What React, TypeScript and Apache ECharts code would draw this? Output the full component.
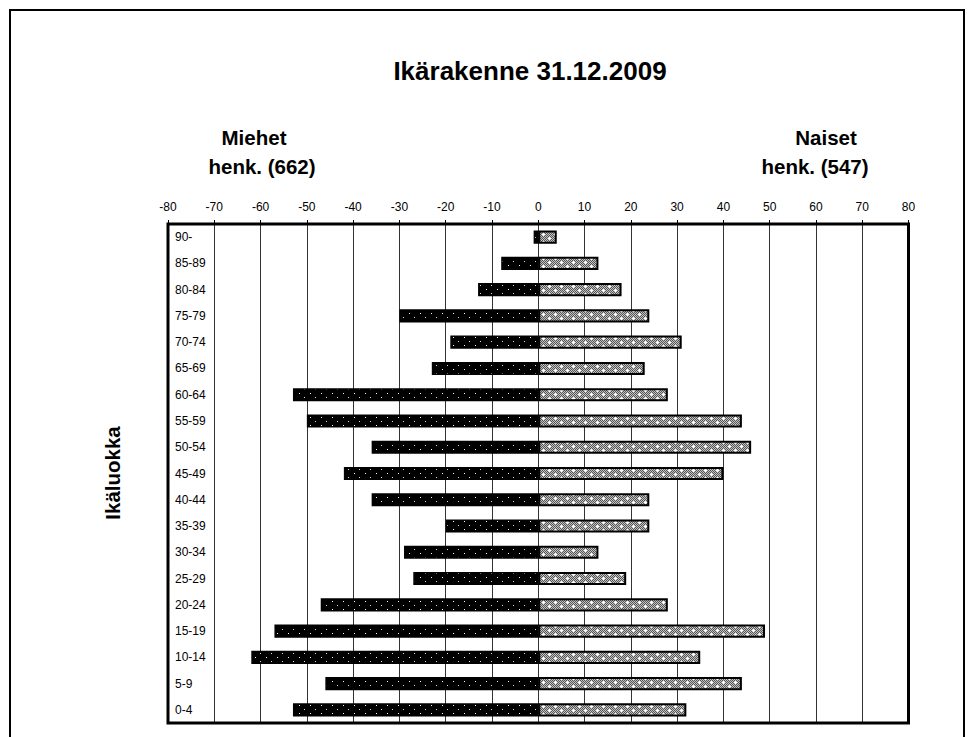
import React, { useEffect, useRef } from "react";
import * as echarts from "echarts";

const categories = ["0-4", "5-9", "10-14", "15-19", "20-24", "25-29", "30-34", "35-39", "40-44", "45-49", "50-54", "55-59", "60-64", "65-69", "70-74", "75-79", "80-84", "85-89", "90-"];
const men = [53, 46, 62, 57, 47, 27, 29, 20, 36, 42, 36, 50, 53, 23, 19, 30, 13, 8, 1];
const women = [32, 44, 35, 49, 28, 19, 13, 24, 24, 40, 46, 44, 28, 23, 31, 24, 18, 13, 4];
const xTicks = [-80, -70, -60, -50, -40, -30, -20, -10, 0, 10, 20, 30, 40, 50, 60, 70, 80];

const titleText = "Ikärakenne 31.12.2009";
const menLabel = ["Miehet", "henk. (662)"];
const womenLabel = ["Naiset", "henk. (547)"];
const yTitle = "Ikäluokka";

function makeMalePattern() {
  const c = document.createElement("canvas");
  c.width = 11;
  c.height = 8;
  const ctx = c.getContext("2d")!;
  ctx.fillStyle = "#000";
  ctx.fillRect(0, 0, 11, 8);
  ctx.fillStyle = "#fff";
  ctx.fillRect(2, 1, 1, 1);
  ctx.fillStyle = "#ddd";
  ctx.fillRect(7, 5, 1, 1);
  return c;
}

function makeFemalePattern() {
  const c = document.createElement("canvas");
  c.width = 12;
  c.height = 8;
  const ctx = c.getContext("2d")!;
  for (let y = 0; y < 8; y++) {
    for (let x = 0; x < 12; x++) {
      ctx.fillStyle = (x + y) % 2 === 0 ? "#555" : "#c4c4c4";
      ctx.fillRect(x, y, 1, 1);
    }
  }
  ctx.fillStyle = "#fff";
  ctx.fillRect(3, 1, 1, 3);
  ctx.fillRect(2, 2, 3, 1);
  ctx.fillRect(9, 5, 1, 3);
  ctx.fillRect(8, 6, 3, 1);
  return c;
}

export default function App() {
  const ref = useRef<HTMLDivElement>(null);
  useEffect(() => {
    if (!ref.current) return;
    const chart = echarts.init(ref.current, undefined, { renderer: "svg" });
    const malePat = makeMalePattern();
    const femalePat = makeFemalePattern();
    const bold = { fontFamily: "Liberation Sans, Arial, sans-serif", fontWeight: "bold" as const, fill: "#000" };
    chart.setOption({
      animation: false,
      backgroundColor: "#fff",
      grid: {
        left: 168,
        right: 59.5,
        top: 224,
        bottom: 14,
        show: true,
        borderColor: "#000",
        borderWidth: 3,
        backgroundColor: "transparent",
        z: 10,
      },
      xAxis: {
        type: "value",
        position: "top",
        min: xTicks[0],
        max: xTicks[xTicks.length - 1],
        interval: 10,
        axisLine: { show: false },
        axisTick: { show: true, length: 4, lineStyle: { color: "#000", width: 1 } },
        axisLabel: {
          margin: 11,
          fontSize: 12,
          color: "#000",
          fontFamily: "Liberation Sans, Arial, sans-serif",
        },
        splitLine: { show: true, lineStyle: { color: "#333", width: 1 } },
      },
      yAxis: {
        type: "category",
        data: categories,
        axisLine: { show: false },
        axisTick: { show: false },
        axisLabel: {
          inside: true,
          margin: 7,
          fontSize: 12,
          color: "#000",
          fontFamily: "Liberation Sans, Arial, sans-serif",
        },
        splitLine: { show: false },
        z: 5,
      },
      series: [
        {
          name: "Miehet",
          type: "bar",
          stack: "all",
          barWidth: "50%",
          data: men.map((v) => -v),
          itemStyle: {
            color: { image: malePat, repeat: "repeat" },
            borderColor: "#000",
            borderWidth: 1.5,
          },
        },
        {
          name: "Naiset",
          type: "bar",
          stack: "all",
          barWidth: "50%",
          data: women,
          itemStyle: {
            color: { image: femalePat, repeat: "repeat" },
            borderColor: "#000",
            borderWidth: 2,
          },
        },
      ],
      graphic: [
        {
          type: "rect",
          shape: { x: 10, y: 10, width: 954, height: 760 },
          style: { fill: "none", stroke: "#000", lineWidth: 2 },
          silent: true,
        },
        {
          type: "text",
          x: 530,
          y: 71,
          style: { ...bold, text: titleText, fontSize: 26, align: "center", verticalAlign: "middle" },
        },
        {
          type: "text",
          x: 254,
          y: 137.5,
          style: { ...bold, text: menLabel[0], fontSize: 20.5, align: "center", verticalAlign: "middle" },
        },
        {
          type: "text",
          x: 262,
          y: 166,
          style: { ...bold, text: menLabel[1], fontSize: 20.5, align: "center", verticalAlign: "middle" },
        },
        {
          type: "text",
          x: 826,
          y: 137.5,
          style: { ...bold, text: womenLabel[0], fontSize: 20.5, align: "center", verticalAlign: "middle" },
        },
        {
          type: "text",
          x: 815,
          y: 166,
          style: { ...bold, text: womenLabel[1], fontSize: 20.5, align: "center", verticalAlign: "middle" },
        },
        {
          type: "text",
          x: 112,
          y: 473,
          rotation: Math.PI / 2,
          style: { ...bold, text: yTitle, fontSize: 20.5, align: "center", verticalAlign: "middle" },
        },
      ],
    });
    return () => chart.dispose();
  }, []);
  return (
    <div
      ref={ref}
      style={{ position: "fixed", left: 0, top: 0, width: 968, height: 737, background: "#fff" }}
    />
  );
}
